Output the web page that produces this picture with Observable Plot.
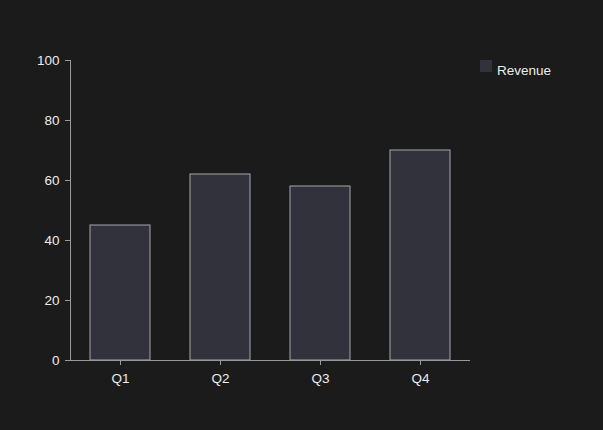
<!DOCTYPE html>
<html>
<head>
<meta charset="utf-8">
<script src="https://cdn.jsdelivr.net/npm/d3@7"></script>
<script src="https://cdn.jsdelivr.net/npm/@observablehq/plot@0.6"></script>
<style>
  html, body { margin: 0; padding: 0; background: #1b1b1b; }
  #wrap { position: relative; width: 603px; height: 430px; background: #1b1b1b; font-family: "Liberation Sans", Arial, sans-serif; }
  #wrap svg text { font-size: 13.5px; font-family: "Liberation Sans", Arial, sans-serif; }
  #legend { position: absolute; left: 480px; top: 60px; display: flex; align-items: flex-start; color: #ececec; font-size: 13.5px; line-height: 1; }
  #legend .sw { width: 12px; height: 12px; margin-right: 5px; }
  #legend span.lbl { position: relative; top: 4px; }
</style>
</head>
<body>
<div id="wrap"></div>
<script>
const categories = ["Q1", "Q2", "Q3", "Q4"];
const revenue = [45, 62, 58, 70];
const yTicks = [0, 20, 40, 60, 80, 100];
const seriesName = "Revenue";

const data = categories.map((c, i) => ({quarter: c, value: revenue[i]}));
const barFill = "#32323c";
const barStroke = "#a6a6a6";
const axisColor = "#999999";
const textColor = "#ececec";

const chart = Plot.plot({
  width: 603,
  height: 430,
  marginLeft: 70,
  marginRight: 133,
  marginTop: 60,
  marginBottom: 70,
  style: {background: "#1b1b1b", color: textColor, fontFamily: "'Liberation Sans', Arial, sans-serif"},
  x: {domain: categories, paddingInner: 0.4, paddingOuter: 0.2, label: null},
  y: {domain: [0, 100], label: null},
  marks: [
    Plot.barY(data, {x: "quarter", y: "value", fill: barFill, stroke: barStroke, strokeWidth: 1}),
    Plot.axisY({ticks: yTicks, tickSize: 5, tickPadding: 6, stroke: axisColor, fill: textColor, label: null}),
    Plot.axisX({tickSize: 5, tickPadding: 8, stroke: axisColor, fill: textColor, label: null}),
    Plot.frame({anchor: "left", stroke: axisColor}),
    Plot.ruleY([0], {stroke: axisColor})
  ]
});

const wrap = document.getElementById("wrap");
wrap.appendChild(chart);

const legend = document.createElement("div");
legend.id = "legend";
const sw = document.createElement("div");
sw.className = "sw";
sw.style.background = barFill;
const lbl = document.createElement("span");
lbl.className = "lbl";
lbl.textContent = seriesName;
legend.appendChild(sw);
legend.appendChild(lbl);
wrap.appendChild(legend);
</script>
</body>
</html>
